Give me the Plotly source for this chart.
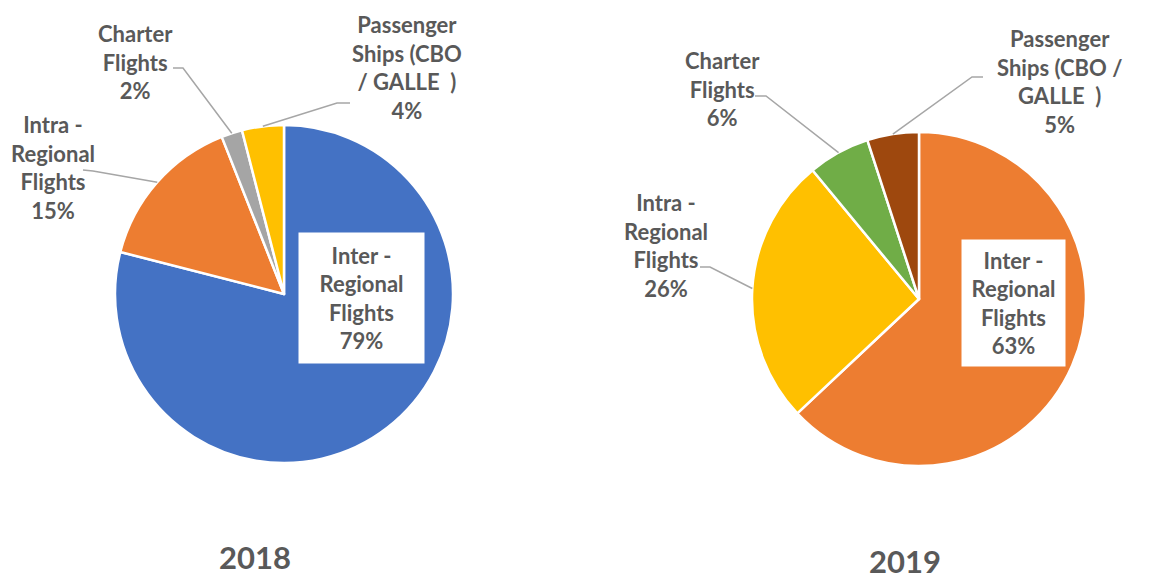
import math
import plotly.graph_objects as go

# ---------------- data ----------------
categories = ["Inter - Regional Flights", "Intra - Regional Flights",
              "Charter Flights", "Passenger Ships (CBO / GALLE  )"]
years = ["2018", "2019"]
values_2018 = [79, 15, 2, 4]
values_2019 = [63, 26, 6, 5]
colors_2018 = ["#4472C4", "#ED7D31", "#A5A5A5", "#FFC000"]
colors_2019 = ["#ED7D31", "#FFC000", "#70AD47", "#9E480E"]
# category names as broken into lines on each chart
lines_2018 = [["Inter -", "Regional", "Flights"], ["Intra -", "Regional", "Flights"],
              ["Charter", "Flights"], ["Passenger", "Ships (CBO", "/ GALLE\u00a0\u00a0)"]]
lines_2019 = [["Inter -", "Regional", "Flights"], ["Intra -", "Regional", "Flights"],
              ["Charter", "Flights"], ["Passenger", "Ships (CBO /", "GALLE\u00a0\u00a0)"]]

# ---------------- layout (pixels) ----------------
W, H = 1167, 579
TXT = "#595959"
FONT = "Lato"

charts = [
    dict(year=years[0], values=values_2018, colors=colors_2018, lines=lines_2018,
         cx=284, cy=294, r=169, title_xy=(255, 557),
         box=dict(xy=(361, 298), w=121, h=126),
         # label centre, leader start, leader elbow for slices 1..3
         outside=[((53, 168), (83, 170), (93, 171)),
                  ((135, 62), (173, 68), (183, 68)),
                  ((407, 67), (350, 103), (337, 103))]),
    dict(year=years[1], values=values_2019, colors=colors_2019, lines=lines_2019,
         cx=919, cy=299, r=167, title_xy=(905, 561),
         box=dict(xy=(1013, 303), w=99, h=122),
         outside=[((666, 245), (700, 267), (710, 267)),
                  ((722, 89), (755, 96), (766, 96)),
                  ((1059, 81), (983, 77), (972, 77))]),
]


def px(x, y):
    return x / W, 1 - y / H


fig = go.Figure()
annotations = []
shapes = []

for c in charts:
    cx, cy, r = c["cx"], c["cy"], c["r"]
    fig.add_trace(go.Pie(
        labels=categories, values=c["values"], sort=False,
        direction="clockwise", rotation=0,
        domain=dict(x=[(cx - r) / W, (cx + r) / W],
                    y=[1 - (cy + r) / H, 1 - (cy - r) / H]),
        marker=dict(colors=c["colors"], line=dict(color="white", width=2.5)),
        textinfo="none", hoverinfo="label+percent", showlegend=False,
    ))
    total = sum(c["values"])
    pct = [round(100 * v / total) for v in c["values"]]

    # inside box label for first slice
    bx, by = px(*c["box"]["xy"])
    annotations.append(dict(
        x=bx, y=by, xref="paper", yref="paper", xanchor="center", yanchor="middle",
        text="<br>".join(c["lines"][0] + [f"{pct[0]}%"]), showarrow=False,
        bgcolor="white", width=c["box"]["w"], height=c["box"]["h"], borderpad=2,
        font=dict(family=FONT, size=22, color=TXT, weight="bold"), align="center"))

    # outside labels with leader lines
    cum = c["values"][0]
    for i in range(1, 4):
        v = c["values"][i]
        frac = (cum + v / 2) / total
        cum += v
        th = 2 * math.pi * frac
        ax_, ay_ = cx + r * math.sin(th), cy - r * math.cos(th)
        (lx, ly), s0, s1 = c["outside"][i - 1]
        annotations.append(dict(
            x=px(lx, ly)[0], y=px(lx, ly)[1], xref="paper", yref="paper",
            xanchor="center", yanchor="middle", showarrow=False, align="center",
            text="<br>".join(c["lines"][i] + [f"{pct[i]}%"]),
            font=dict(family=FONT, size=22, color=TXT, weight="bold")))
        p0, p1, p2 = px(*s0), px(*s1), px(ax_, ay_)
        shapes.append(dict(
            type="path", xref="paper", yref="paper",
            path=f"M {p0[0]} {p0[1]} L {p1[0]} {p1[1]} L {p2[0]} {p2[1]}",
            line=dict(color="#A6A6A6", width=1.5)))

    tx, ty = px(*c["title_xy"])
    annotations.append(dict(
        x=tx, y=ty, xref="paper", yref="paper", xanchor="center", yanchor="middle",
        text=c["year"], showarrow=False,
        font=dict(family=FONT, size=31, color=TXT, weight="bold")))

fig.update_layout(
    width=W, height=H, margin=dict(l=0, r=0, t=0, b=0),
    paper_bgcolor="white", plot_bgcolor="white",
    annotations=annotations, shapes=shapes,
)

fig.write_html("out.html", config={"displayModeBar": False},
               post_script="document.body.style.margin='0';document.body.style.overflow='hidden';")
